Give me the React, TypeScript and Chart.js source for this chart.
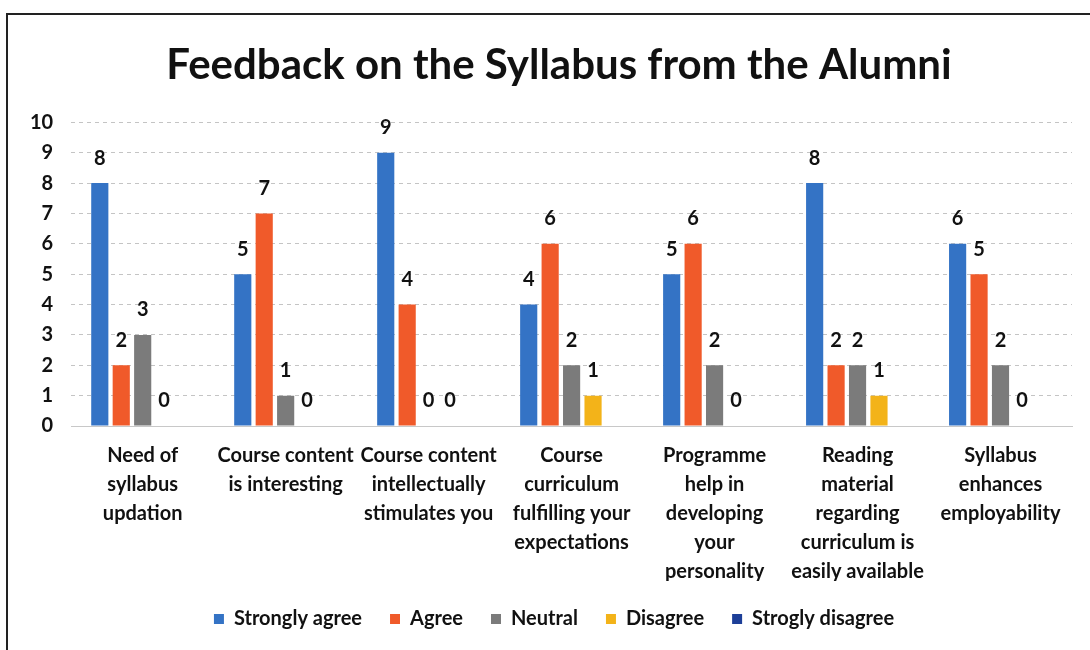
import React, { useEffect, useRef } from "react";
import { Chart, registerables } from "chart.js";
Chart.register(...registerables);

const TITLE = "Feedback on the Syllabus from the Alumni";
const categories: string[][] = [
  ["Need of", "syllabus", "updation"],
  ["Course content", "is interesting"],
  ["Course content", "intellectually", "stimulates you"],
  ["Course", "curriculum", "fulfilling your", "expectations"],
  ["Programme", "help in", "developing", "your", "personality"],
  ["Reading", "material", "regarding", "curriculum is", "easily available"],
  ["Syllabus", "enhances", "employability"],
];
const stronglyAgree = [8, 5, 9, 4, 5, 8, 6];
const agree = [2, 7, 4, 6, 6, 2, 5];
const neutral = [3, 1, 0, 2, 2, 2, 2];
const disagree = [0, 0, 0, 1, 0, 1, 0];
const stronglyDisagree: (number | null)[] = [null, null, null, null, null, null, null];
const yTicks = [0, 1, 2, 3, 4, 5, 6, 7, 8, 9, 10];

const FONT = "Lato, 'Open Sans', sans-serif";

const valueLabels = {
  id: "valueLabels",
  afterDatasetsDraw(chart: any) {
    const ctx = chart.ctx;
    ctx.save();
    ctx.font = `bold 20px ${FONT}`;
    ctx.fillStyle = "#111";
    ctx.textAlign = "center";
    ctx.textBaseline = "middle";
    chart.data.datasets.forEach((ds: any, i: number) => {
      const meta = chart.getDatasetMeta(i);
      if (meta.hidden) return;
      meta.data.forEach((el: any, j: number) => {
        const v = ds.data[j];
        if (v === null || v === undefined) return;
        ctx.fillText(String(v), el.x, el.y - 25);
      });
    });
    ctx.restore();
  },
};

const shiftBlocks = {
  id: "shiftBlocks",
  afterLayout(chart: any) {
    const t = chart.titleBlock;
    if (t) { t.left += 17; t.right += 17; }
    const l = chart.legend;
    if (l) { l.left += 12; l.right += 12; }
  },
};

export default function App() {
  const ref = useRef<HTMLCanvasElement>(null);
  useEffect(() => {
    if (!ref.current) return;
    const chart = new Chart(ref.current, {
      type: "bar",
      data: {
        labels: categories,
        datasets: [
          { label: "Strongly agree", data: stronglyAgree, backgroundColor: "#3473c5" },
          { label: "Agree", data: agree, backgroundColor: "#f05a2a" },
          { label: "Neutral", data: neutral, backgroundColor: "#7b7b7b" },
          { label: "Disagree", data: disagree, backgroundColor: "#f3b319" },
          { label: "Strogly disagree", data: stronglyDisagree, backgroundColor: "#1d3f98" },
        ],
      },
      options: {
        animation: false,
        responsive: false,
        maintainAspectRatio: false,
        layout: { padding: { top: 40, left: 12, right: 18, bottom: 11 } },
        datasets: { bar: { categoryPercentage: 0.75, barPercentage: 0.8 } },
        plugins: {
          title: {
            display: true,
            text: TITLE,
            color: "#111",
            font: { family: FONT, size: 42, weight: "bold" },
            padding: { top: 0, bottom: 32 },
          },
          legend: {
            position: "bottom",
            labels: {
              boxWidth: 10,
              boxHeight: 10,
              padding: 28,
              color: "#111",
              font: { family: FONT, size: 20, weight: "bold" },
            },
          },
          tooltip: { enabled: false },
        },
        scales: {
          x: {
            grid: { display: false, drawTicks: false },
            border: { display: true, color: "#c8c8c8" },
            afterFit: (axis: any) => {
              axis.height -= 20;
            },
            ticks: {
              color: "#111",
              padding: 15,
              maxRotation: 0,
              autoSkip: false,
              font: { family: FONT, size: 20, weight: "bold", lineHeight: 1.45 },
            },
          },
          y: {
            min: 0,
            max: 10,
            afterBuildTicks: (axis: any) => {
              axis.ticks = yTicks.map((v) => ({ value: v }));
            },
            grid: { color: "#c4c4c4", drawTicks: false },
            border: { display: false, dash: [4, 4] },
            ticks: {
              color: "#111",
              padding: 18,
              font: { family: FONT, size: 20, weight: "bold" },
            },
          },
        },
      },
      plugins: [valueLabels, shiftBlocks],
    });
    return () => chart.destroy();
  }, []);
  return (
    <div style={{ position: "fixed", left: 0, top: 0, width: 1090, height: 650, background: "#fff", overflow: "hidden" }}>
      <div style={{ position: "absolute", left: 6, top: 13, width: 1200, height: 700, border: "2px solid #222" }} />
      <canvas ref={ref} width={1090} height={650} style={{ position: "absolute", left: 0, top: 0 }} />
    </div>
  );
}
